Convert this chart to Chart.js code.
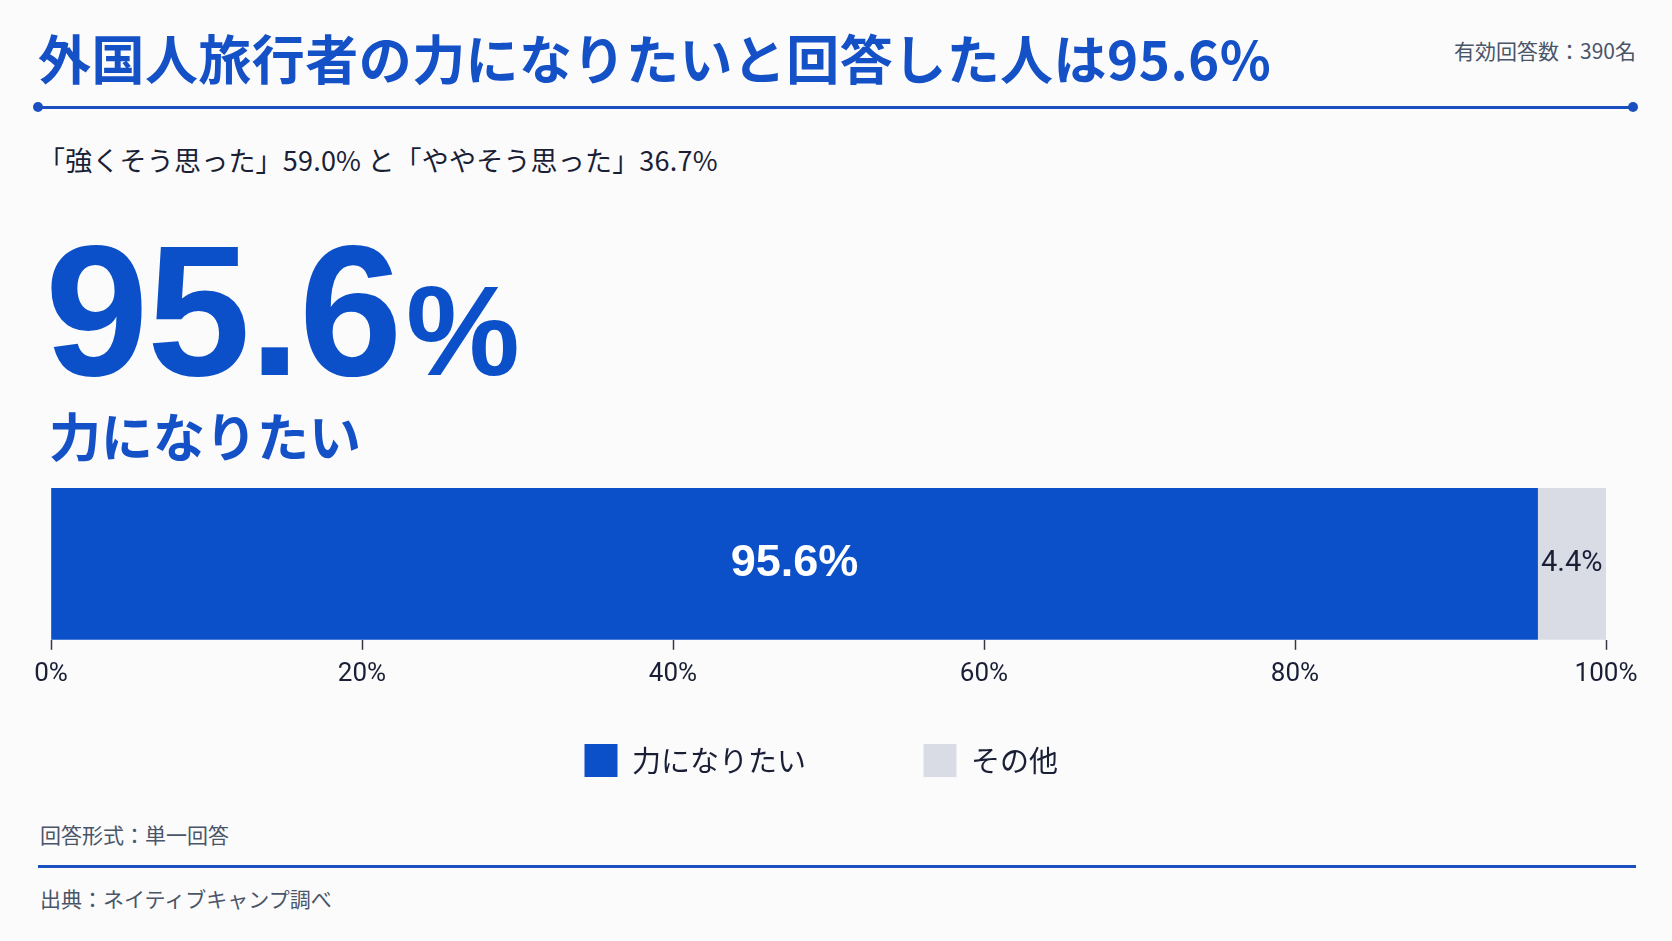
<!DOCTYPE html>
<html lang="ja"><head><meta charset="utf-8">
<script src="https://cdn.jsdelivr.net/npm/chart.js@4.4.1/dist/chart.umd.min.js"></script>
<style>
html,body{margin:0;padding:0;background:#fbfbfc;}
body{width:1672px;height:941px;position:relative;overflow:hidden;font-family:"Noto Sans CJK JP","Noto Sans",sans-serif;}
.abs{position:absolute;white-space:nowrap;}
#title{left:38px;top:30px;font-size:53px;line-height:54px;font-weight:700;color:#1450c6;letter-spacing:0.45px;}
#count{right:36px;top:37px;font-size:21px;line-height:26px;color:#4a5568;}
.rule{position:absolute;background:#1a4fbf;}
.dot{position:absolute;width:10px;height:10px;border-radius:50%;background:#1a4fbf;}
#sub{left:38px;top:144px;font-size:27px;line-height:32px;color:#1a1f36;letter-spacing:0.2px;}
#big{left:45px;top:218px;font-family:"Liberation Sans",Arial,sans-serif;font-weight:700;font-size:186px;line-height:186px;color:#0b50c8;letter-spacing:-1.5px;}
#big .pct{font-size:128px;letter-spacing:0;margin-left:5px;}
#label{left:49px;top:405px;font-size:52px;line-height:60px;font-weight:700;color:#1450c6;}
#fmt{left:40px;top:821px;font-size:21px;line-height:26px;color:#4a5568;}
#src{left:40px;top:885px;font-size:21px;line-height:26px;color:#4a5568;}
#chartWrap{position:absolute;left:0;top:470px;width:1672px;height:317px;}
</style>
</head><body>
<div id="title" class="abs">外国人旅行者の力になりたいと回答した人は95.6%</div>
<div id="count" class="abs">有効回答数：390名</div>
<div class="rule" style="left:38px;top:106px;width:1595px;height:3px;"></div>
<div class="dot" style="left:33px;top:102px;"></div>
<div class="dot" style="left:1628px;top:102px;"></div>
<div id="sub" class="abs">「強くそう思った」59.0% と「ややそう思った」36.7%</div>
<div id="big" class="abs">95.6<span class="pct">%</span></div>
<div id="label" class="abs">力になりたい</div>
<div id="chartWrap"><canvas id="c" width="1672" height="317"></canvas></div>
<div id="fmt" class="abs">回答形式：単一回答</div>
<div class="rule" style="left:38px;top:865px;width:1598px;height:3px;"></div>
<div id="src" class="abs">出典：ネイティブキャンプ調べ</div>
<script>
const categories = ['回答'];
const seriesNames = ['力になりたい', 'その他'];
const wantToHelp = [95.6];
const other = [4.4];
const tickValues = [0, 20, 40, 60, 80, 100];

const barColors = ['#0b50c8', '#d9dce4'];
const labelFonts = ['700 45px "Liberation Sans", Arial, sans-serif', '400 29px Roboto, "Noto Sans", sans-serif'];
const labelColors = ['#ffffff', '#1a1f36'];

const valueLabelPlugin = {
  id: 'valueLabels',
  afterDatasetsDraw(chart) {
    const ctx = chart.ctx;
    chart.data.datasets.forEach((ds, i) => {
      const meta = chart.getDatasetMeta(i);
      meta.data.forEach((el, j) => {
        const p = el.getCenterPoint();
        ctx.save();
        ctx.font = labelFonts[i];
        ctx.fillStyle = labelColors[i];
        ctx.textAlign = 'center';
        ctx.textBaseline = 'middle';
        ctx.fillText(ds.data[j].toFixed(1) + '%', p.x, p.y);
        ctx.restore();
      });
    });
  }
};

new Chart(document.getElementById('c'), {
  type: 'bar',
  data: {
    labels: categories,
    datasets: [
      { label: seriesNames[0], data: wantToHelp, backgroundColor: barColors[0], borderWidth: 0, categoryPercentage: 1, barPercentage: 1 },
      { label: seriesNames[1], data: other, backgroundColor: barColors[1], borderWidth: 0, categoryPercentage: 1, barPercentage: 1 }
    ]
  },
  options: {
    indexAxis: 'y',
    responsive: false,
    animation: false,
    layout: { padding: { left: 51, right: 66, top: 18, bottom: 0 } },
    scales: {
      x: {
        stacked: true,
        min: 0, max: 100,
        afterBuildTicks(scale) { scale.ticks = tickValues.map(v => ({ value: v })); },
        ticks: {
          callback: v => v + '%',
          color: '#1a1f36',
          font: { family: 'Roboto, "Noto Sans", sans-serif', size: 26 },
          padding: 9,
          maxRotation: 0
        },
        grid: { display: true, drawOnChartArea: false, drawTicks: true, tickLength: 10, tickWidth: 1.5, tickColor: '#333844' },
        border: { display: false }
      },
      y: { stacked: true, display: false }
    },
    plugins: {
      tooltip: { enabled: false },
      legend: {
        position: 'bottom',
        labels: {
          boxWidth: 33,
          boxHeight: 33,
          padding: 45,
          color: '#1a1f36',
          font: { family: '"Noto Sans CJK JP", sans-serif', size: 29 },
          generateLabels(chart) {
            const items = Chart.defaults.plugins.legend.labels.generateLabels(chart);
            items[0].text += '\u3000\u3000\u2002';
            items[items.length - 1].text += '\u2002';
            items.forEach(it => { it.lineWidth = 0; });
            return items;
          }
        }
      }
    }
  },
  plugins: [valueLabelPlugin]
});
</script>
</body></html>
